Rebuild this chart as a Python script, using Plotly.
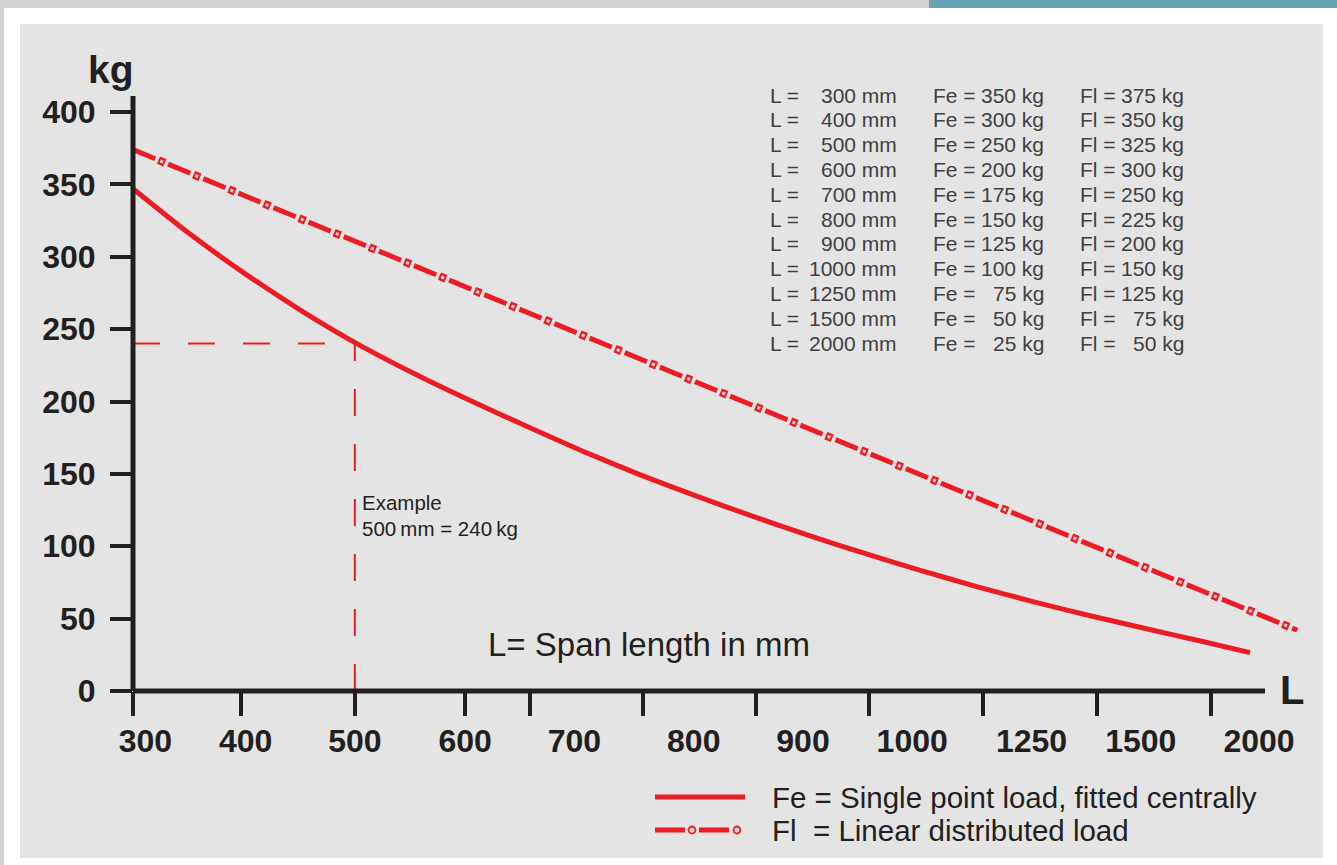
import plotly.graph_objects as go

W, H = 1337, 865

# ---------------- data ----------------
x_labels = ["300", "400", "500", "600", "700", "800", "900", "1000", "1250", "1500", "2000"]
y_ticks = [0, 50, 100, 150, 200, 250, 300, 350, 400]

# Fe curve (single point load) (x in axis position units)
fe_pos = [0, 0.5, 1.0, 1.5, 2.0, 2.5, 3.0, 3.5, 4.0, 4.5, 5.0, 5.5, 6.0, 6.5,
          7.0, 7.5, 8.0, 8.5, 9.0, 9.5, 9.92]
fe_kg = [347, 316, 288, 262.5, 239.5, 219.2, 200.5, 182.7, 165.5, 149.5,
         134.8, 120.8, 107.5, 95.0, 83.2, 72.0, 61.6, 52.0, 43.0, 34.2, 26.5]

# Fl line (linear distributed load)
fl_pos = [0, 10.34]
fl_kg = [374, 42]

# Example: 500 mm = 240 kg
ex_pos = 1.97
ex_kg = 240

# Table
table_L = [300, 400, 500, 600, 700, 800, 900, 1000, 1250, 1500, 2000]
table_Fe = [350, 300, 250, 200, 175, 150, 125, 100, 75, 50, 25]
table_Fl = [375, 350, 325, 300, 250, 225, 200, 150, 125, 75, 50]

# ---------------- layout constants ----------------
label_pos = [0.11, 1.00, 1.97, 2.95, 3.92, 4.98, 5.95, 6.92, 7.98, 8.95, 10.00]
tick_pos = [0.00, 0.96, 1.97, 2.95, 3.53, 4.53, 5.53, 6.54, 7.55, 8.56, 9.57]

RED = "#ed1c24"
DARK = "#231f20"
TXT = "#404040"
FONT = "Liberation Sans, Arial, Helvetica, sans-serif"

X0_PX, X1_PX = 133, 1310          # plot area in pixels
Y0_PX, Y1_PX = 691, 96
PX_PER_U = 112.6
PX_PER_KG = 1.4475


def px(x):
    return x / W


def py(y):
    return 1 - y / H


fig = go.Figure()

# Example dashed guide lines
fig.add_trace(go.Scatter(x=[0, ex_pos], y=[ex_kg, ex_kg], mode="lines",
                         line=dict(color=RED, width=2, dash="27px,28px"),
                         xaxis="x2", hoverinfo="skip"))
fig.add_trace(go.Scatter(x=[ex_pos, ex_pos], y=[0, ex_kg], mode="lines",
                         line=dict(color=RED, width=2, dash="27px,28px"),
                         xaxis="x2", hoverinfo="skip"))

# Fl dash-dot line with ring dots
fig.add_trace(go.Scatter(x=fl_pos, y=fl_kg, mode="lines",
                         line=dict(color=RED, width=5, dash="24px,14px"),
                         name="Fl", hoverinfo="skip"))
fig.add_trace(go.Scatter(x=fl_pos, y=fl_kg, mode="lines",
                         line=dict(color=RED, width=8, dash="0px,27.5px,7px,3.5px"),
                         hoverinfo="skip"))
fig.add_trace(go.Scatter(x=fl_pos, y=fl_kg, mode="lines",
                         line=dict(color="#f0d4d4", width=3, dash="0px,29.5px,3px,5.5px"),
                         hoverinfo="skip"))

# Fe solid curve
fig.add_trace(go.Scatter(x=fe_pos, y=fe_kg, mode="lines",
                         line=dict(color=RED, width=5, shape="spline", smoothing=0.6),
                         name="Fe", hoverinfo="skip"))

xrange = [0, (X1_PX - X0_PX) / PX_PER_U]
yrange = [0, (Y0_PX - Y1_PX) / PX_PER_KG]

shapes = [
    # page decoration
    dict(type="rect", xref="paper", yref="paper", x0=px(0), x1=px(929), y0=py(0), y1=py(8),
         fillcolor="#d2d3d5", line_width=0, layer="below"),
    dict(type="rect", xref="paper", yref="paper", x0=px(929), x1=px(1337), y0=py(0), y1=py(8),
         fillcolor="#69a3b7", line_width=0, layer="below"),
    dict(type="rect", xref="paper", yref="paper", x0=px(0), x1=px(4), y0=py(8), y1=py(865),
         fillcolor="#d2d3d5", line_width=0, layer="below"),
    dict(type="rect", xref="paper", yref="paper", x0=px(20), x1=px(1323), y0=py(24), y1=py(858),
         fillcolor="#e4e4e4", line_width=0, layer="below"),
    # axis lines
    dict(type="line", xref="paper", yref="paper", x0=px(133), x1=px(1265), y0=py(691), y1=py(691),
         line=dict(color=DARK, width=5)),
    dict(type="line", xref="paper", yref="paper", x0=px(133), x1=px(133), y0=py(691), y1=py(96),
         line=dict(color=DARK, width=5)),
    # legend samples
    dict(type="line", xref="paper", yref="paper", x0=px(655), x1=px(745), y0=py(797), y1=py(797),
         line=dict(color=RED, width=5)),
    dict(type="line", xref="paper", yref="paper", x0=px(655), x1=px(685), y0=py(830), y1=py(830),
         line=dict(color=RED, width=5)),
    dict(type="line", xref="paper", yref="paper", x0=px(699), x1=px(729), y0=py(830), y1=py(830),
         line=dict(color=RED, width=5)),
]
for cx in (692, 737):
    shapes.append(dict(type="circle", xref="paper", yref="paper",
                       x0=px(cx - 3.5), x1=px(cx + 3.5), y0=py(830 - 3.5), y1=py(830 + 3.5),
                       line=dict(color=RED, width=1.8), fillcolor="#f0d4d4"))

ann = []


def add_text(text, x, y, size, anchor="left", color=TXT, bold=False):
    ann.append(dict(text=text, x=px(x), y=py(y), xref="paper", yref="paper",
                    xanchor=anchor, yanchor="middle", showarrow=False,
                    font=dict(family=FONT, size=size, color=color,
                              weight=700 if bold else 400)))


# table
for i in range(len(table_L)):
    yy = 95 + 24.8 * i
    add_text("L =", 768, yy, 21)
    add_text(f"{table_L[i]} mm", 899, yy, 21, anchor="right")
    add_text("Fe =", 931, yy, 21)
    add_text(f"{table_Fe[i]} kg", 1046, yy, 21, anchor="right")
    add_text("Fl =", 1078, yy, 21)
    add_text(f"{table_Fl[i]} kg", 1186, yy, 21, anchor="right")

add_text("kg", 86, 70, 39, color=DARK, bold=True)
add_text("L", 1278, 690, 40, color=DARK, bold=True)
add_text("L= Span length in mm", 486, 644, 33, color=DARK)
add_text("Example", 360, 502, 20.5, color=DARK)
add_text("500\u2009mm = 240\u2009kg", 360, 528, 20.5, color=DARK)
add_text("Fe = Single point load, fitted centrally", 770, 797, 29.5, color=DARK)
add_text("Fl\u00a0\u00a0= Linear distributed load", 770, 830, 29.5, color=DARK)

tickfont = dict(family=FONT, size=32, color=DARK, weight=700)

fig.update_layout(
    template="none",
    width=W, height=H, autosize=False, margin=dict(l=0, r=0, t=0, b=0, pad=0),
    paper_bgcolor="white", plot_bgcolor="rgba(0,0,0,0)",
    showlegend=False, shapes=shapes, annotations=ann,
    xaxis=dict(domain=[px(X0_PX), px(X1_PX)], range=xrange, tickvals=tick_pos,
               ticks="outside", ticklen=24, tickwidth=4, tickcolor=DARK,
               showticklabels=False, showgrid=False, zeroline=False, showline=False,
               automargin=False, fixedrange=True),
    xaxis2=dict(domain=[px(X0_PX), px(X1_PX)], range=xrange, overlaying="x", anchor="y",
                side="bottom", tickvals=label_pos, ticktext=x_labels, ticks="",
                ticklabelstandoff=28, tickfont=tickfont, showgrid=False,
                zeroline=False, showline=False, automargin=False, fixedrange=True),
    yaxis=dict(domain=[py(Y0_PX), py(Y1_PX)], range=yrange, tickvals=y_ticks,
               ticks="outside", ticklen=22, tickwidth=4, tickcolor=DARK,
               ticklabelstandoff=8, tickfont=tickfont, showgrid=False,
               zeroline=False, showline=False, automargin=False, fixedrange=True),
)

fig.write_html("out.html", config={"displayModeBar": False},
               post_script="document.body.style.margin='0px';")
